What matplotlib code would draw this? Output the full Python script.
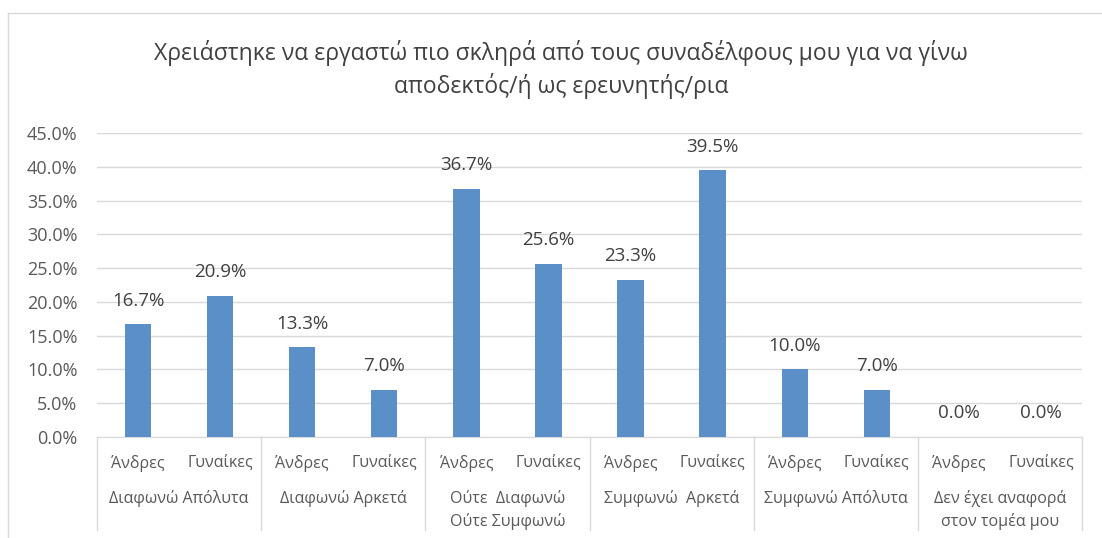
import matplotlib.pyplot as plt
from matplotlib.lines import Line2D

plt.rcParams['font.family'] = ['Open Sans', 'DejaVu Sans']

title = "Χρειάστηκε να εργαστώ πιο σκληρά από τους συναδέλφους μου για να γίνω\nαποδεκτός/ή ως ερευνητής/ρια"
groups = ["Διαφωνώ Απόλυτα", "Διαφωνώ Αρκετά", "Ούτε  Διαφωνώ\nΟύτε Συμφωνώ",
          "Συμφωνώ  Αρκετά", "Συμφωνώ Απόλυτα", "Δεν έχει αναφορά\nστον τομέα μου"]
genders = ["Άνδρες", "Γυναίκες"]
values = [16.7, 20.9, 13.3, 7.0, 36.7, 25.6, 23.3, 39.5, 10.0, 7.0, 0.0, 0.0]

W, H = 1102, 538
fig = plt.figure(figsize=(W / 100, H / 100), dpi=100)
ax = fig.add_axes([97 / W, (H - 437) / H, (1082 - 97) / W, (437 - 133) / H])

x = list(range(len(values)))
ax.bar(x, values, width=0.32, color='#5B8FC8', zorder=3)
ax.set_xlim(-0.5, len(values) - 0.5)
ax.set_ylim(0, 45)
ax.set_yticks([i * 5 for i in range(10)])
ax.set_yticklabels([f"{i * 5:.1f}%" for i in range(10)], fontsize=13, color='#595959')
ax.grid(axis='y', color='#D9D9D9', linewidth=1, zorder=0)
for s in ['top', 'right', 'left']:
    ax.spines[s].set_visible(False)
ax.spines['bottom'].set_color('#D9D9D9')
ax.tick_params(axis='y', length=0, pad=14)
ax.tick_params(axis='x', length=0, pad=13)
ax.set_xticks(x)
ax.set_xticklabels([genders[i % 2] for i in x], fontsize=11.5, color='#595959')

for xi, v in zip(x, values):
    ax.annotate(f"{v:.1f}%", (xi, v), xytext=(0, 10.5), textcoords='offset points',
                ha='center', va='bottom', fontsize=13.5, color='#404040')

# group labels and separators below the axis
px = lambda p: -(p - 437) / (437 - 133)  # pixel row -> axes fraction
for g, name in enumerate(groups):
    ax.text(2 * g + 0.5, px(490), name, transform=ax.get_xaxis_transform(),
            ha='center', va='top', fontsize=11.5, color='#595959', linespacing=1.45)
for b in range(len(groups) + 1):
    ax.plot([2 * b - 0.5] * 2, [0, px(530)], transform=ax.get_xaxis_transform(),
            color='#D9D9D9', linewidth=1, clip_on=False)

fig.text(0.5 * (152 + 970) / W, 1 - 40 / H, title, ha='center', va='top',
         fontsize=16.5, color='#404040', linespacing=1.35)

# chart border
fig.add_artist(Line2D([8 / W, 1101 / W], [1 - 13 / H] * 2, color='#D9D9D9', linewidth=1))
fig.add_artist(Line2D([8 / W] * 2, [1 - 13 / H, 0], color='#D9D9D9', linewidth=1))

fig.savefig('out.png', dpi=100)
